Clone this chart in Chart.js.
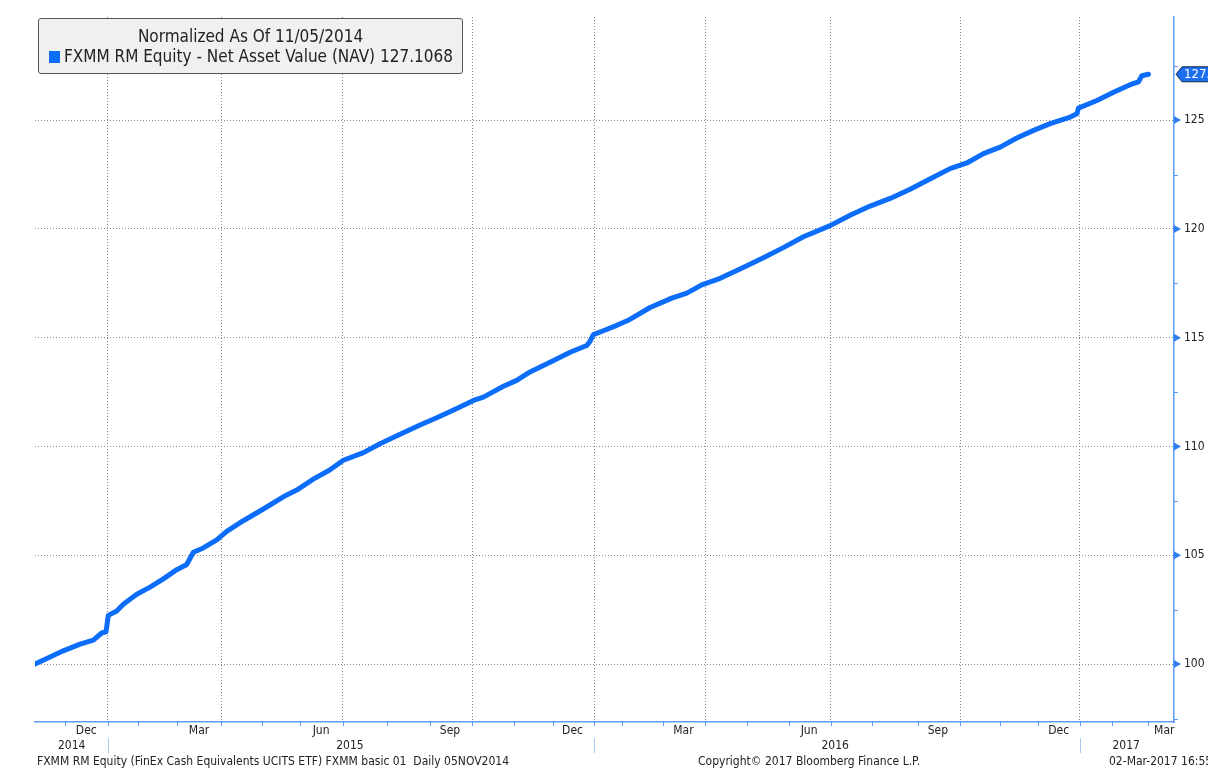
<!DOCTYPE html>
<html>
<head>
<meta charset="utf-8">
<script src="https://cdn.jsdelivr.net/npm/chart.js@4.4.1/dist/chart.umd.min.js"></script>
<style>
  html, body { margin:0; padding:0; background:#fff; overflow:hidden; }
  #wrap { position:relative; width:1208px; height:768px; overflow:hidden; }
  #c { position:absolute; left:0; top:0; }
  .legend { position:absolute; left:38px; top:18px; width:425px; height:56px; box-sizing:border-box;
            background:#f0f0f0; border:1px solid #555; border-radius:3px;
            font-family:'DejaVu Sans Condensed','DejaVu Sans',sans-serif; font-size:17px; color:#222; }
  .legend .t1 { position:absolute; left:0; right:0; top:7px; text-align:center; white-space:nowrap; }
  .legend .t2 { position:absolute; left:10px; top:27px; white-space:nowrap; }
  .legend .sw { display:inline-block; width:11px; height:12px; background:#0b6dfa; margin-right:4px; vertical-align:-1px; }
  .foot { position:absolute; top:754px; font-family:'DejaVu Sans Condensed','DejaVu Sans',sans-serif; font-size:12px; color:#222; white-space:nowrap; }
</style>
</head>
<body>
<div id="wrap">
  <canvas id="c" width="1208" height="768"></canvas>
  <div class="legend">
    <div class="t1">Normalized As Of 11/05/2014</div>
    <div class="t2"><span class="sw"></span>FXMM RM Equity - Net Asset Value (NAV) 127.1068</div>
  </div>
  <div class="foot" style="left:37px">FXMM RM Equity (FinEx Cash Equivalents UCITS ETF) FXMM basic 01&nbsp; Daily 05NOV2014</div>
  <div class="foot" style="left:698px">Copyright© 2017 Bloomberg Finance L.P.</div>
  <div class="foot" style="left:1109px">02-Mar-2017 16:55</div>
</div>
<script>
// x values: trading-day index since 05-Nov-2014
const dayIdx = [0, 7.7, 14.5, 23.1, 29.9, 34.2, 36.4, 37.6, 41.9, 45.3, 52.2, 59.0, 65.8, 72.7, 77.8, 81.2, 86.3, 93.2, 98.3,
  106.8, 117.1, 127.3, 134.2, 142.7, 150.9, 158.1, 168.4, 176.9, 187.2, 197.4, 206.0, 216.3, 224.8, 229.9, 240.2, 247.0,
  253.8, 264.1, 274.4, 282.9, 284.6, 286.3, 291.4, 298.3, 304.8, 315.4, 326.5, 334.2, 341.9, 351.3, 361.5, 373.5, 383.7,
  394.0, 407.7, 417.9, 428.2, 438.5, 448.7, 458.6, 469.2, 477.8, 486.3, 494.9, 503.4, 512.0, 520.5, 530.8, 534.2, 535.0,
  544.5, 553.0, 561.5, 565.8, 567.5, 570.9];
const navValues = [100.00, 100.33, 100.61, 100.92, 101.10, 101.43, 101.48, 102.24, 102.44, 102.75, 103.21, 103.54, 103.92,
  104.34, 104.58, 105.14, 105.34, 105.71, 106.10, 106.59, 107.13, 107.69, 108.00, 108.50, 108.91, 109.37, 109.72, 110.13,
  110.56, 110.99, 111.32, 111.75, 112.12, 112.27, 112.77, 113.04, 113.43, 113.87, 114.33, 114.64, 114.84, 115.14, 115.32,
  115.57, 115.83, 116.39, 116.82, 117.05, 117.43, 117.73, 118.16, 118.68, 119.14, 119.64, 120.15, 120.63, 121.05, 121.40,
  121.82, 122.28, 122.77, 123.03, 123.46, 123.76, 124.18, 124.53, 124.84, 125.14, 125.29, 125.55, 125.90, 126.28, 126.63,
  126.76, 127.04, 127.1068];
const lastNav = 127.1068;

const monthLabels = ['Dec', 'Mar', 'Jun', 'Sep', 'Dec', 'Mar', 'Jun', 'Sep', 'Dec', 'Mar'];
const monthLabelPos = [26.3, 84.1, 146.7, 212.8, 275.6, 332.5, 396.9, 462.9, 524.9, 579];
const yearLabels = ['2014', '2015', '2016', '2017'];
const yearLabelPos = [18.8, 161.5, 410.3, 559.5];
const quarterEnds = [37.3, 95.4, 157.9, 224.3, 286.7, 343.7, 408.1, 474.4, 535.7];
const yearEnds = [37.3, 286.7, 535.7];
const monthEnds = [15.5, 53, 72.7, 116.3, 136.1, 180.7, 202.4, 245.5, 265.8, 301, 322, 365.3, 386.6, 428.9, 452.7, 494.9, 514.4, 552.1, 570.6];
const yTickValues = [100, 105, 110, 115, 120, 125];
const yMinorValues = [97.5, 102.5, 107.5, 112.5, 117.5, 122.5, 127.5];

// month labels on the first line, year labels on the second line of the same axis
const xTickPos = monthLabelPos.concat(yearLabelPos);
const xTickText = monthLabels.concat(yearLabels.map(y => ['', y]));

const X_MIN = 0, X_MAX = 584, Y_MIN = 97.34, Y_MAX = 129.73;
const LINE = '#0b6dfa', AXIS = '#5c9cf5', GRID = '#8c8c8c', TXT = '#222';
const FONT = "'DejaVu Sans Condensed','DejaVu Sans',sans-serif";

const decor = {
  id: 'decor',
  afterDraw(chart) {
    const c = chart.ctx, xs = chart.scales.x, ys = chart.scales.y, a = chart.chartArea;
    c.save();
    // month tick marks under x axis
    c.strokeStyle = AXIS; c.lineWidth = 1;
    monthEnds.concat(quarterEnds).forEach(v => {
      const px = Math.round(xs.getPixelForValue(v)) + 0.5;
      c.beginPath(); c.moveTo(px, a.bottom); c.lineTo(px, a.bottom + 4); c.stroke();
    });
    // year separators
    c.strokeStyle = '#a9c8f2';
    yearEnds.forEach(v => {
      const px = Math.round(xs.getPixelForValue(v)) + 0.5;
      c.beginPath(); c.moveTo(px, 738); c.lineTo(px, 753); c.stroke();
    });
    // y minor ticks
    c.strokeStyle = AXIS;
    yMinorValues.forEach(v => {
      const py = Math.round(ys.getPixelForValue(v)) + 0.5;
      c.beginPath(); c.moveTo(a.right, py); c.lineTo(a.right + 4, py); c.stroke();
    });
    // y major triangles
    c.fillStyle = '#2f7ff0';
    yTickValues.forEach(v => {
      const py = ys.getPixelForValue(v);
      c.beginPath(); c.moveTo(a.right, py - 4); c.lineTo(a.right + 7, py); c.lineTo(a.right, py + 4); c.closePath(); c.fill();
    });
    // last value tag
    const ty = ys.getPixelForValue(lastNav);
    c.beginPath();
    c.moveTo(a.right + 2, ty);
    c.lineTo(a.right + 8, ty - 7.5);
    c.lineTo(1210, ty - 7.5);
    c.lineTo(1210, ty + 7.5);
    c.lineTo(a.right + 8, ty + 7.5);
    c.closePath();
    c.fillStyle = '#1b6ff0'; c.fill();
    c.strokeStyle = '#1a2a4a'; c.lineWidth = 1; c.stroke();
    c.fillStyle = '#fff'; c.font = "13px " + FONT; c.textBaseline = 'middle'; c.textAlign = 'left';
    c.fillText(lastNav.toFixed(2), a.right + 10, ty + 0.5);
    c.restore();
  }
};

new Chart(document.getElementById('c'), {
  type: 'line',
  data: {
    datasets: [{
      data: dayIdx.map((d, i) => ({ x: d, y: navValues[i] })),
      borderColor: LINE, borderWidth: 5, pointRadius: 0, tension: 0,
      borderCapStyle: 'round', borderJoinStyle: 'round',
      xAxisID: 'x', yAxisID: 'y'
    }]
  },
  options: {
    responsive: false, animation: false, devicePixelRatio: 1,
    layout: { padding: { left: 35, top: 15, right: 0, bottom: 0 } },
    plugins: { legend: { display: false }, tooltip: { enabled: false } },
    scales: {
      x: {
        type: 'linear', position: 'bottom', min: X_MIN, max: X_MAX,
        afterBuildTicks: s => { s.ticks = xTickPos.map(v => ({ value: v })); },
        afterFit: s => { s.height = 46; },
        ticks: { autoSkip: false, maxRotation: 0, minRotation: 0, padding: 2, color: TXT, font: { family: FONT, size: 12 },
                 callback: (v, i) => xTickText[i] },
        grid: { display: false, drawTicks: false },
        border: { display: true, color: AXIS, width: 1.5 }
      },
      xg: {
        type: 'linear', position: 'top', min: X_MIN, max: X_MAX,
        afterBuildTicks: s => { s.ticks = quarterEnds.map(v => ({ value: v })); },
        afterFit: s => { s.height = 0; },
        ticks: { display: false },
        grid: { display: true, color: GRID, lineWidth: 1, drawTicks: false },
        border: { display: false, dash: [1, 2] }
      },
      y: {
        type: 'linear', position: 'right', min: Y_MIN, max: Y_MAX,
        afterBuildTicks: s => { s.ticks = yTickValues.map(v => ({ value: v })); },
        afterFit: s => { s.width = 34; },
        ticks: { padding: 10, color: TXT, font: { family: FONT, size: 12 } },
        grid: { color: GRID, lineWidth: 1, drawTicks: false },
        border: { display: true, color: AXIS, width: 1.5, dash: [1, 2] }
      }
    }
  },
  plugins: [decor]
});
</script>
</body>
</html>
